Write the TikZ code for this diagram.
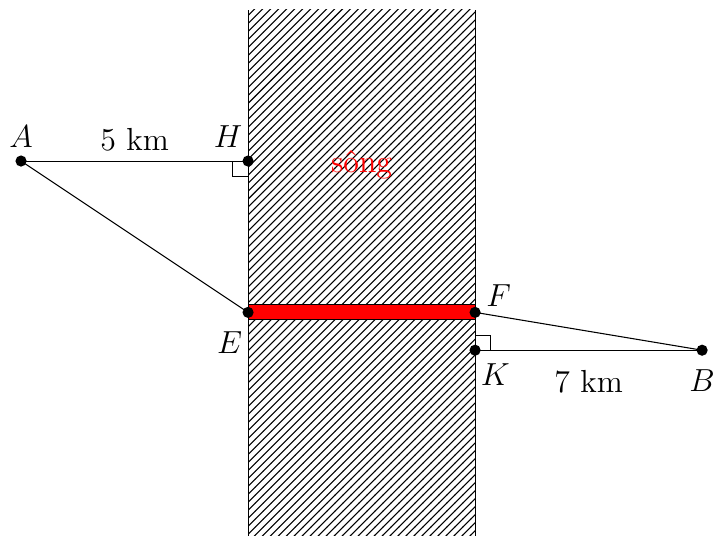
\documentclass[tikz,border=0pt]{standalone}
\usepackage{amsmath}
\usepackage{amssymb}
\usepackage{xcolor}
\usepackage{tikz}
\usetikzlibrary{patterns, positioning, calc}

\begin{document}
\begin{tikzpicture}[
font=\large,
pt_dot/.style={circle, fill=black, inner sep=0pt, minimum size=4.2pt},
pt_label/.style={inner sep=2pt},
rt_mark/.style={thin}
]
\useasboundingbox (-3.278,-4.942) rectangle (6.144,2.128);

% River
\fill[pattern=north east lines] (0,-5) rectangle (3,2);
\draw (0,-5) -- (0,2);
\draw (3,-5) -- (3,2);
\node[text=red] (song) at (1.5,-0.05) {s\^ong};

% Points
\coordinate (A) at (-3,0);
\coordinate (H) at (0,0);
\coordinate (E) at (0,-2);
\coordinate (F) at (3,-2);
\coordinate (K) at (3,-2.5);
\coordinate (B) at (6,-2.5);

% Bridge
\draw[fill=red] (0,-2.09) rectangle (3,-1.9);

% Segments
\draw (A) -- (H) node[midway, above] {5 km};
\draw (A) -- (E);
\draw (F) -- (B);
\draw (K) -- (B) node[midway, below=4pt] {7 km};

% Right angles
\draw[rt_mark] ($(H)+(-0.2,0)$) -- ++(0,-0.2) -- ++(0.2,0);
\draw[rt_mark] ($(K)+(0,0.2)$) -- ++(0.2,0) -- ++(0,-0.2);

% Dots and labels
\foreach \p in {A,H,E,F,K,B} \node[pt_dot] at (\p) {};
\node[pt_label, above=3pt of A] (lA) {$A$};
\node[pt_label, above left=3pt and 0pt of H] (lH) {$H$};
\node[pt_label, below left=5pt and 0pt of E] (lE) {$E$};
\node[pt_label, above right=0pt and 2pt of F] (lF) {$F$};
\node[pt_label, below right=3pt and 0pt of K] (lK) {$K$};
\node[pt_label, below=5pt of B] (lB) {$B$};
\end{tikzpicture}
\end{document}
